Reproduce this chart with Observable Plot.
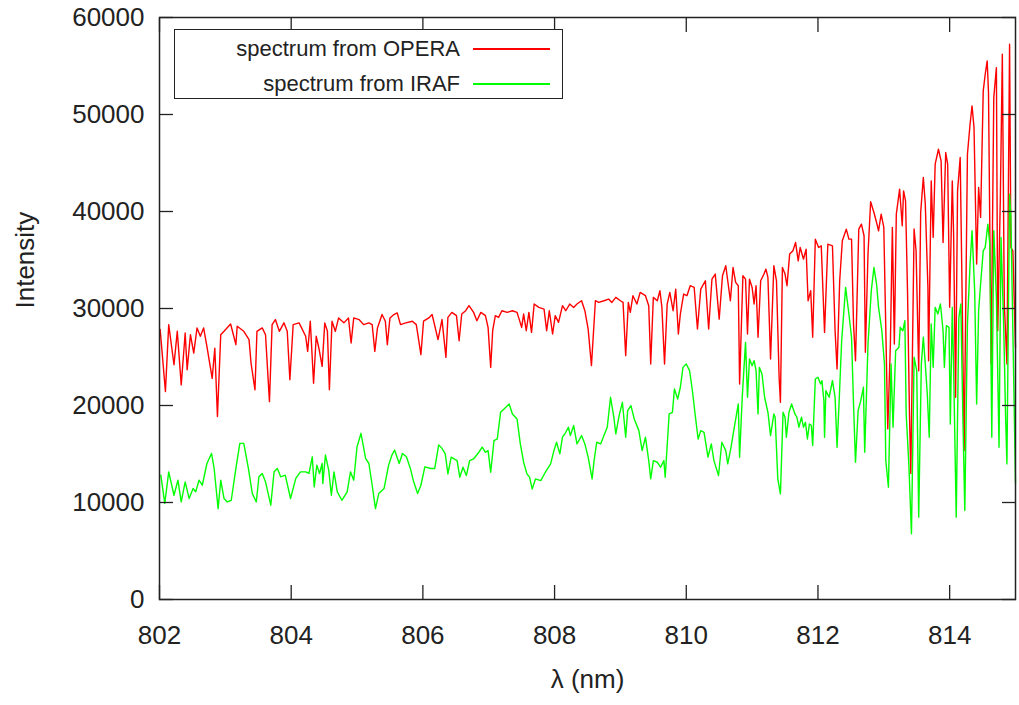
<!DOCTYPE html>
<html><head><meta charset="utf-8">
<script src="https://cdn.jsdelivr.net/npm/d3@7"></script>
<script src="https://cdn.jsdelivr.net/npm/@observablehq/plot@0.6"></script>
<style>
html,body{margin:0;padding:0;background:#fff;}
#wrap{position:relative;width:1019px;height:705px;font-family:"Liberation Sans",Arial,sans-serif;color:#222;}
#legend{position:absolute;left:174px;top:29px;width:387px;height:68px;border:1.5px solid #222;background:#fff;}
.row{position:absolute;left:0;width:387px;height:30px;}
.lbl{position:absolute;right:102px;top:0;line-height:30px;font-size:22px;white-space:nowrap;}
.sw{position:absolute;left:298px;width:77px;top:14px;height:0;border-top:2px solid;}
</style></head><body><div id="wrap"></div>
<script>
// ---- data ----
const operaLambda = [802.01,802.09,802.14,802.22,802.27,802.33,802.39,802.42,802.47,802.52,802.57,802.62,802.67,802.72,802.80,802.84,802.88,802.93,802.98,803.08,803.16,803.18,803.28,803.36,803.39,803.45,803.48,803.56,803.61,803.67,803.71,803.76,803.82,803.89,803.94,803.98,804.03,804.12,804.22,804.25,804.29,804.34,804.38,804.42,804.47,804.51,804.55,804.58,804.62,804.67,804.72,804.80,804.87,804.91,804.95,805.03,805.10,805.18,805.23,805.27,805.31,805.38,805.43,805.46,805.50,805.56,805.61,805.66,805.74,805.84,805.90,805.97,806.01,806.09,806.14,806.23,806.29,806.35,806.38,806.44,806.51,806.55,806.59,806.65,806.70,806.77,806.82,806.88,806.95,806.99,807.03,807.06,807.10,807.15,807.20,807.28,807.36,807.43,807.50,807.53,807.57,807.61,807.65,807.69,807.76,807.84,807.88,807.92,807.97,808.01,808.06,808.12,808.17,808.23,808.29,808.34,808.41,808.46,808.51,808.56,808.62,808.67,808.75,808.82,808.87,808.93,809.00,809.04,809.08,809.12,809.15,809.19,809.25,809.30,809.38,809.43,809.46,809.50,809.56,809.60,809.63,809.67,809.71,809.75,809.80,809.84,809.88,809.91,809.96,810.01,810.06,810.12,810.17,810.22,810.29,810.34,810.39,810.44,810.50,810.55,810.60,810.65,810.67,810.71,810.75,810.79,810.81,810.86,810.90,810.93,810.96,811.00,811.03,811.06,811.09,811.13,811.18,811.21,811.24,811.28,811.33,811.37,811.41,811.43,811.46,811.50,811.53,811.57,811.62,811.66,811.70,811.73,811.78,811.82,811.85,811.89,811.92,811.96,812.01,812.05,812.10,812.15,812.22,812.26,812.29,812.33,812.37,812.43,812.47,812.51,812.54,812.57,812.62,812.66,812.70,812.72,812.76,812.80,812.85,812.89,812.92,812.96,813.00,813.06,813.10,813.13,813.16,813.19,813.24,813.28,813.30,813.33,813.36,813.39,813.41,813.46,813.49,813.53,813.56,813.60,813.63,813.67,813.68,813.72,813.75,813.78,813.83,813.87,813.90,813.94,813.97,814.00,814.04,814.06,814.09,814.12,814.16,814.19,814.22,814.27,814.31,814.34,814.37,814.41,814.44,814.47,814.51,814.54,814.57,814.59,814.63,814.67,814.71,814.73,814.77,814.80,814.83,814.87,814.91,814.93,814.96,815.00];
const operaIntensity = [27830,21450,28340,24200,27650,22130,27480,23690,27300,25400,28000,27140,28000,26100,22800,25900,18860,27300,27650,28400,26270,28170,27650,26790,24380,21620,27650,28000,27300,20400,28340,28860,27650,28520,27650,22650,28340,28520,27140,25580,28690,22300,27140,25930,24030,28520,27650,21620,28690,27650,29030,28520,29030,26450,29030,28860,28340,28520,28340,25580,28000,29380,28690,26270,29030,29380,29550,28340,28520,28690,28340,25240,28690,29030,29380,26790,28860,24960,29080,29600,29260,26680,29430,29770,30290,29600,28740,29600,29260,28050,23930,27710,29260,29080,29770,29600,29770,29600,28050,29430,27710,29600,27540,30460,30110,29940,27710,29770,27370,29260,28570,30290,29770,30460,30110,30460,30800,29770,27880,24110,30800,30630,30800,30970,30630,31150,30800,30630,25140,30630,29600,31320,30460,31660,31320,30290,24280,31150,30800,31830,30110,24280,30460,31660,29770,32000,27370,29430,31490,31320,32350,32170,27880,32000,32860,27880,33030,33550,28910,33380,34410,31830,30800,34230,32690,32350,22220,33380,33030,27370,33030,32170,30460,32350,27030,32860,33550,34060,33200,24800,34410,32860,22910,20330,34230,33550,32350,35610,35950,36810,34920,36290,35090,36120,30800,31830,27030,37150,36290,36460,27540,36640,36460,27710,23760,32860,36980,38180,37150,37150,28400,24620,38180,38700,37500,25480,35610,41000,39900,38870,38010,39730,38360,17590,26340,38360,26340,39730,42300,38530,42130,41100,31830,19130,13000,38190,35950,23590,39900,43500,40760,32180,24620,43160,37330,44880,46420,45220,36810,46080,44880,30120,43160,37670,20850,42130,45560,31150,15350,45900,48990,50890,48650,34580,42480,39390,52430,54150,55520,52260,24280,51740,54830,27710,41450,56210,30460,24280,57240,36300,35950,26000];

const irafLambda = [802.02,802.08,802.14,802.22,802.28,802.33,802.39,802.45,802.51,802.55,802.60,802.65,802.72,802.79,802.83,802.89,802.93,802.98,803.03,803.09,803.16,803.22,803.28,803.35,803.41,803.47,803.51,803.56,803.61,803.69,803.74,803.79,803.84,803.91,803.99,804.07,804.14,804.22,804.27,804.32,804.35,804.39,804.43,804.47,804.48,804.52,804.57,804.61,804.65,804.70,804.77,804.85,804.90,804.95,805.00,805.06,805.13,805.18,805.23,805.28,805.33,805.41,805.48,805.53,805.57,805.64,805.69,805.75,805.81,805.86,805.92,805.97,806.03,806.12,806.18,806.24,806.29,806.34,806.38,806.43,806.52,806.56,806.61,806.66,806.71,806.77,806.85,806.90,806.95,806.99,807.03,807.08,807.13,807.18,807.26,807.31,807.36,807.43,807.48,807.53,807.58,807.62,807.66,807.71,807.79,807.86,807.94,807.99,808.03,808.08,808.12,808.17,808.21,808.24,808.29,808.34,808.41,808.46,808.51,808.57,808.60,808.64,808.70,808.75,808.80,808.85,808.90,808.93,808.98,809.03,809.08,809.11,809.16,809.21,809.28,809.33,809.38,809.43,809.46,809.50,809.56,809.61,809.66,809.68,809.74,809.79,809.82,809.87,809.91,809.95,810.00,810.05,810.09,810.14,810.18,810.22,810.27,810.33,810.38,810.42,810.49,810.54,810.60,810.63,810.68,810.73,810.79,810.81,810.85,810.90,810.93,810.96,811.00,811.03,811.06,811.09,811.11,811.15,811.19,811.24,811.28,811.33,811.35,811.39,811.43,811.47,811.50,811.52,811.56,811.60,811.65,811.68,811.71,811.75,811.78,811.81,811.84,811.87,811.90,811.92,811.96,812.00,812.04,812.06,812.09,812.10,812.12,812.17,812.22,812.26,812.29,812.32,812.36,812.42,812.47,812.51,812.54,812.57,812.61,812.65,812.69,812.71,812.76,812.81,812.85,812.89,812.92,812.97,813.01,813.03,813.07,813.11,813.14,813.18,813.23,813.25,813.29,813.32,813.34,813.38,813.42,813.46,813.50,813.53,813.57,813.60,813.63,813.66,813.69,813.72,813.75,813.78,813.82,813.86,813.90,813.92,813.95,813.99,814.01,814.04,814.06,814.10,814.14,814.17,814.20,814.23,814.27,814.31,814.34,814.38,814.41,814.44,814.47,814.51,814.54,814.58,814.61,814.64,814.67,814.71,814.75,814.78,814.82,814.85,814.87,814.91,814.93,814.96,815.00];
const irafIntensity = [12820,9900,13160,10750,12300,10060,12130,10410,11440,11100,12300,11780,14020,15060,13510,9370,12300,10410,10060,10230,13510,16100,16100,13510,10920,10060,12650,12990,12130,9720,13160,13510,12650,12820,10410,12480,13160,13160,12990,14710,11610,13850,12990,14020,11960,14890,13330,10750,13160,11100,10230,11100,13160,12300,15750,17130,14540,14020,11780,9370,10920,11440,13850,14890,15410,14020,15060,14710,13510,12130,10920,11780,13680,13510,13510,15930,15580,15010,12950,14670,14320,12610,13640,12780,14320,14490,15180,15700,15180,15350,13120,16380,16550,19300,19820,20160,19130,18610,16040,14150,12950,12610,11400,12430,12260,13120,13980,15350,16210,15010,16730,17240,17760,16900,17930,16040,16900,16040,14670,12430,14320,16210,16040,16900,17760,20850,18790,17070,18960,20330,16730,19470,19990,18610,17410,15350,16730,14320,12440,14320,14150,13640,14320,12610,19130,19300,21700,20670,21880,23930,24280,23590,21700,18790,16550,17410,17240,14670,16040,14320,12780,16210,15350,13980,15700,17760,20160,14670,20850,26510,20850,24800,24110,24620,23590,19130,23930,23250,20850,19300,16900,19130,18790,12440,10890,19300,18790,16730,19300,20160,19130,18790,17760,18790,17760,18270,16550,18100,17930,15870,22730,22910,22220,22560,20500,16730,21530,20850,22560,20850,15700,20160,26680,32180,29430,27030,20160,14150,19470,20500,21880,15180,26340,31830,34230,32520,30120,27710,24280,14330,11580,24280,17760,25650,26000,28060,27710,28740,19130,13980,6770,24970,23590,8490,24280,27030,24280,21190,16730,28400,23940,30120,29430,30460,27710,23940,28230,28060,18100,30120,23940,8490,29090,30460,19130,9180,28400,34580,38010,31830,20160,29770,32520,35950,36300,38700,36640,16730,38010,31150,15700,37330,28400,18790,13980,41790,39390,27710,12000];

const seriesNames = ["spectrum from OPERA", "spectrum from IRAF"];
const seriesColors = ["#ff0000", "#00ff00"];
const xTicks = [802, 804, 806, 808, 810, 812, 814];
const yTicks = [0, 10000, 20000, 30000, 40000, 50000, 60000];
const xDomain = [802, 815];
const yDomain = [0, 60000];
const xLabel = "λ (nm)";
const yLabel = "Intensity";

const opera = operaLambda.map((l, i) => ({lambda: l, intensity: operaIntensity[i]}));
const iraf = irafLambda.map((l, i) => ({lambda: l, intensity: irafIntensity[i]}));

const font = "Liberation Sans, Arial, sans-serif";
const chart = Plot.plot({
  width: 1019, height: 705,
  marginLeft: 159, marginRight: 4, marginTop: 17, marginBottom: 106,
  style: {fontFamily: font, fontSize: "26px", color: "#222", background: "#fff"},
  x: {domain: xDomain},
  y: {domain: yDomain},
  marks: [
    Plot.line(opera, {x: "lambda", y: "intensity", stroke: seriesColors[0], strokeWidth: 1.4}),
    Plot.line(iraf, {x: "lambda", y: "intensity", stroke: seriesColors[1], strokeWidth: 1.4}),
    Plot.axisX(xTicks, {anchor: "bottom", tickSize: -14, tickPadding: 40, label: null, fontSize: 26, strokeWidth: 1.3, tickFormat: d => String(d)}),
    Plot.axisX(xTicks, {anchor: "top", tickSize: -14, label: null, strokeWidth: 1.3, tickFormat: () => ""}),
    Plot.axisY(yTicks, {anchor: "left", tickSize: -14, tickPadding: 29, label: null, fontSize: 26, strokeWidth: 1.3, tickFormat: d => String(d)}),
    Plot.axisY(yTicks, {anchor: "right", tickSize: -14, label: null, strokeWidth: 1.3, tickFormat: () => ""}),
    Plot.frame({stroke: "#222", strokeWidth: 1.5}),
    Plot.text([xLabel], {frameAnchor: "bottom", dy: 88, text: d => d, fontSize: 26, fill: "#222"}),
    Plot.text([yLabel], {frameAnchor: "left", dx: -134, rotate: -90, text: d => d, fontSize: 26, fill: "#222"})
  ]
});
const wrap = document.getElementById("wrap");
wrap.appendChild(chart);

// legend (HTML overlay inside the frame, top-left)
const legend = document.createElement("div");
legend.id = "legend";
seriesNames.forEach((name, i) => {
  const row = document.createElement("div");
  row.className = "row";
  row.style.top = (4 + i * 35) + "px";
  const lbl = document.createElement("span");
  lbl.className = "lbl";
  lbl.textContent = name;
  const sw = document.createElement("span");
  sw.className = "sw";
  sw.style.borderTopColor = seriesColors[i];
  row.appendChild(lbl);
  row.appendChild(sw);
  legend.appendChild(row);
});
wrap.appendChild(legend);
</script>
</body></html>
